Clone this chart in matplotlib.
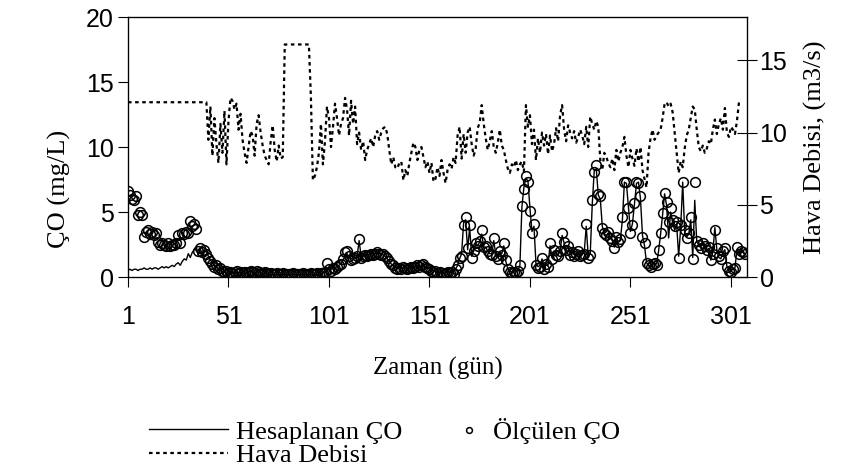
import matplotlib.pyplot as plt

# gun (zaman) eksenleri
days_co = list(range(1, 309))
days_q = list(range(1, 307))

# Olculen CO (mg/L), gun 1-308
olculen_co = [
    6.6, 6.3, 6.0, 5.9, 6.2, 4.8, 5.0, 4.8, 3.1, 3.5,
    3.6, 3.3, 3.5, 3.2, 3.4, 2.7, 2.5, 2.6, 2.5, 2.4,
    2.6, 2.4, 2.5, 2.5, 2.6, 3.2, 2.6, 3.4, 3.3, 3.5,
    3.4, 4.3, 3.9, 4.1, 3.7, 2.0, 2.2, 1.9, 2.1, 1.8,
    1.5, 1.2, 1.0, 0.8, 0.9, 0.6, 0.7, 0.5, 0.4, 0.5,
    0.3, 0.4, 0.3, 0.4, 0.5, 0.3, 0.4, 0.3, 0.4, 0.3,
    0.4, 0.5, 0.4, 0.3, 0.5, 0.4, 0.3, 0.3, 0.4, 0.3,
    0.2, 0.3, 0.2, 0.2, 0.3, 0.2, 0.2, 0.3, 0.2, 0.2,
    0.2, 0.2, 0.3, 0.2, 0.2, 0.2, 0.2, 0.3, 0.2, 0.2,
    0.2, 0.3, 0.2, 0.2, 0.3, 0.2, 0.3, 0.3, 0.4, 1.1,
    0.6, 0.5, 0.7, 0.6, 0.8, 0.9, 1.0, 1.4, 1.9, 2.0,
    1.6, 1.3, 1.4, 1.5, 1.6, 2.9, 1.5, 1.6, 1.7, 1.6,
    1.7, 1.8, 1.7, 1.8, 1.9, 1.8, 1.7, 1.8, 1.6, 1.5,
    1.2, 1.0, 0.9, 0.7, 0.6, 0.7, 0.6, 0.8, 0.7, 0.6,
    0.7, 0.8, 0.7, 0.8, 0.9, 0.8, 0.9, 1.0, 0.8, 0.7,
    0.6, 0.5, 0.4, 0.5, 0.3, 0.4, 0.3, 0.2, 0.3, 0.4,
    0.3, 0.4, 0.2, 0.6, 0.9, 1.5, 1.6, 4.0, 4.6, 2.2,
    4.0, 1.5, 2.0, 2.6, 2.4, 2.8, 3.6, 2.3, 2.4, 2.0,
    1.8, 1.7, 3.0, 1.6, 1.4, 2.0, 1.7, 2.6, 1.3, 0.6,
    0.4, 0.3, 0.4, 0.3, 0.5, 0.9, 5.5, 6.8, 7.8, 7.3,
    5.1, 3.4, 4.1, 0.9, 0.7, 0.8, 1.5, 0.6, 1.0, 0.8,
    2.6, 1.4, 2.1, 1.7, 1.6, 2.0, 3.4, 2.7, 2.1, 2.4,
    1.7, 1.9, 1.6, 1.8, 2.0, 1.6, 1.7, 1.8, 4.1, 1.5,
    1.7, 5.9, 8.1, 8.6, 6.4, 6.2, 3.8, 3.4, 3.2, 3.5,
    3.0, 2.8, 2.2, 3.1, 2.7, 2.9, 4.6, 7.3, 7.3, 5.3,
    3.4, 4.0, 5.7, 7.3, 7.2, 6.2, 3.1, 2.6, 1.1, 0.9,
    0.8, 1.0, 1.1, 0.9, 2.1, 3.4, 4.9, 6.5, 5.8, 4.2,
    5.3, 4.4, 3.9, 4.2, 1.5, 4.0, 7.3, 3.6, 3.0, 3.4,
    4.6, 1.4, 7.3, 2.8, 2.5, 2.2, 2.6, 2.4, 2.1, 2.3,
    1.3, 1.8, 3.6, 2.2, 1.6, 1.4, 2.0, 2.2, 0.8, 0.5,
    0.4, 0.6, 0.7, 2.3, 1.8, 2.0, 1.9, 1.8,
]

# Hesaplanan CO (mg/L), gun 1-308
hesaplanan_co = [
    0.5, 0.6, 0.5, 0.6, 0.6, 0.5, 0.6, 0.6, 0.7, 0.6,
    0.6, 0.7, 0.6, 0.7, 0.7, 0.6, 0.7, 0.8, 0.7, 0.8,
    0.7, 0.8, 0.9, 0.8, 1.0, 1.1, 0.9, 1.2, 1.4, 1.3,
    1.8, 1.5, 1.9, 2.1, 2.3, 1.7, 2.2, 1.6, 1.9, 2.0,
    1.6, 1.3, 1.1, 0.9, 0.8, 0.6, 0.5, 0.4, 0.4, 0.3,
    0.3, 0.3, 0.3, 0.4, 0.4, 0.3, 0.4, 0.3, 0.3, 0.3,
    0.4, 0.4, 0.4, 0.3, 0.4, 0.4, 0.3, 0.3, 0.3, 0.3,
    0.2, 0.2, 0.2, 0.2, 0.2, 0.2, 0.2, 0.2, 0.2, 0.2,
    0.2, 0.2, 0.2, 0.2, 0.2, 0.2, 0.2, 0.2, 0.2, 0.2,
    0.2, 0.2, 0.2, 0.2, 0.2, 0.2, 0.3, 0.3, 0.4, 0.6,
    0.6, 0.6, 0.7, 0.7, 0.8, 0.9, 1.0, 1.3, 1.6, 1.8,
    1.5, 1.4, 1.4, 1.5, 1.6, 2.8, 1.6, 1.6, 1.7, 1.7,
    1.7, 1.8, 1.8, 1.8, 1.9, 1.8, 1.8, 1.7, 1.6, 1.4,
    1.2, 1.0, 0.9, 0.8, 0.7, 0.7, 0.7, 0.7, 0.7, 0.7,
    0.7, 0.7, 0.7, 0.8, 0.8, 0.8, 0.8, 0.9, 0.8, 0.7,
    0.6, 0.5, 0.5, 0.4, 0.4, 0.4, 0.3, 0.3, 0.3, 0.4,
    0.4, 0.4, 0.4, 0.6, 0.9, 1.4, 1.8, 4.2, 4.4, 2.1,
    3.8, 1.6, 2.0, 2.5, 2.4, 2.7, 3.3, 2.3, 2.3, 2.0,
    1.8, 1.8, 2.8, 1.7, 1.5, 1.9, 1.8, 2.4, 1.2, 0.6,
    0.4, 0.4, 0.4, 0.4, 0.5, 0.9, 5.4, 6.9, 7.6, 7.4,
    5.3, 3.5, 3.9, 1.0, 0.8, 0.9, 1.4, 0.7, 1.0, 0.9,
    2.4, 1.5, 2.0, 1.8, 1.7, 2.0, 3.2, 2.6, 2.1, 2.3,
    1.8, 1.9, 1.7, 1.8, 1.9, 1.7, 1.8, 1.9, 3.9, 1.6,
    1.8, 5.6, 8.2, 8.3, 6.3, 6.0, 3.9, 3.3, 3.2, 3.4,
    3.0, 2.8, 2.3, 3.0, 2.7, 2.9, 4.4, 7.3, 7.2, 5.4,
    3.5, 4.1, 5.6, 7.2, 7.3, 6.0, 3.2, 2.4, 1.1, 0.9,
    0.8, 1.0, 1.1, 1.0, 2.0, 3.3, 4.8, 6.4, 5.5, 3.0,
    5.0, 4.2, 3.6, 4.0, 1.6, 3.8, 7.3, 3.4, 3.1, 3.3,
    4.4, 1.5, 5.9, 2.7, 2.5, 2.3, 2.5, 2.3, 2.1, 2.2,
    1.3, 1.9, 3.8, 2.1, 1.5, 1.4, 1.9, 2.1, 0.8, 0.6,
    0.5, 0.6, 0.7, 2.1, 1.8, 1.9, 1.9, 1.7,
]

# Hava debisi (m3/s), gun 1-306
hava_debisi = [
    12.1, 12.1, 12.1, 12.1, 12.1, 12.1, 12.1, 12.1, 12.1, 12.1,
    12.1, 12.1, 12.1, 12.1, 12.1, 12.1, 12.1, 12.1, 12.1, 12.1,
    12.1, 12.1, 12.1, 12.1, 12.1, 12.1, 12.1, 12.1, 12.1, 12.1,
    12.1, 12.1, 12.1, 12.1, 12.1, 12.1, 12.1, 12.1, 12.1, 12.1,
    9.5, 11.8, 8.4, 11.0, 9.2, 7.9, 10.6, 8.6, 11.5, 7.8,
    10.8, 12.4, 12.2, 11.6, 12.0, 10.2, 11.3, 9.5, 8.6, 7.9,
    9.0, 10.1, 9.8, 8.4, 10.6, 11.2, 10.0, 9.1, 8.4, 8.1,
    7.8, 9.4, 10.5, 8.8, 8.0, 9.1, 8.2, 8.3, 16.1, 16.1,
    16.1, 16.1, 16.1, 16.1, 16.1, 16.1, 16.1, 16.1, 16.1, 16.1,
    16.1, 12.5, 6.7, 7.0, 7.6, 8.6, 10.6, 7.8, 9.4, 11.8,
    11.0, 9.0, 10.4, 12.0, 11.0, 9.8, 10.6, 11.0, 12.4, 11.6,
    9.8, 12.2, 10.6, 11.8, 9.2, 10.0, 8.8, 9.4, 8.1, 8.8,
    9.2, 9.6, 9.0, 9.8, 10.1, 9.5, 10.0, 10.3, 10.4, 9.9,
    8.8, 7.8, 8.3, 7.6, 7.5, 7.9, 8.0, 6.7, 7.4, 7.0,
    7.9, 8.6, 9.3, 9.0, 8.1, 8.8, 9.0, 8.3, 7.6, 8.0,
    7.2, 7.9, 6.6, 6.8, 7.6, 7.0, 8.1, 7.2, 6.5, 7.4,
    7.8, 7.5, 8.3, 7.9, 9.8, 10.4, 8.2, 9.9, 8.6, 10.0,
    10.4, 9.2, 8.4, 8.9, 10.3, 10.7, 11.9, 10.6, 9.6, 8.8,
    9.4, 10.1, 9.0, 8.6, 9.3, 10.2, 9.1, 8.8, 8.1, 7.5,
    7.2, 7.8, 7.6, 8.1, 7.4, 7.8, 8.0, 7.3, 11.9, 10.4,
    11.2, 9.2, 10.2, 8.1, 9.6, 8.6, 10.0, 9.1, 9.9, 8.5,
    9.8, 8.7, 9.2, 10.3, 9.4, 11.2, 11.9, 10.2, 9.4, 10.5,
    10.0, 9.6, 10.1, 9.3, 9.7, 10.2, 9.8, 9.2, 10.4, 9.0,
    11.1, 10.6, 10.2, 10.8, 10.4, 8.1, 7.4, 8.6, 8.3, 7.9,
    7.6, 8.2, 7.4, 8.8, 8.0, 8.6, 9.0, 9.7, 8.4, 7.6,
    8.8, 8.2, 7.7, 8.9, 8.0, 9.0, 7.4, 6.8, 6.2, 8.6,
    9.6, 10.2, 9.5, 9.8, 10.0, 10.2, 11.0, 12.0, 12.1, 11.8,
    12.0, 11.4, 10.0, 8.6, 7.2, 8.0, 7.6, 8.9, 9.8, 10.2,
    11.0, 11.8, 11.6, 10.2, 9.0, 8.7, 9.1, 8.6, 8.9, 9.4,
    9.2, 10.2, 10.9, 9.9, 10.6, 11.0, 10.2, 11.7, 10.0, 9.7,
    10.4, 10.2, 9.9, 10.8, 12.1, 12.0,
]

x_ticks = [1, 51, 101, 151, 201, 251, 301]

TICK_FONT = "Liberation Sans"
LABEL_FONT = "Liberation Serif"


def main():

    fig = plt.figure(figsize=(8.51, 4.70), dpi=100)
    ax = fig.add_axes([0.1504, 0.4106, 0.7274, 0.5532])
    ax2 = ax.twinx()

    # CO serileri (sol eksen)
    ln_h, = ax.plot(days_co, hesaplanan_co, color="black", lw=1.0)
    ln_o, = ax.plot(days_co, olculen_co, ls="none", marker="o",
                    markersize=7, markerfacecolor="none",
                    markeredgecolor="black", markeredgewidth=1.1)

    # hava debisi (sag eksen)
    ln_q, = ax2.plot(days_q, hava_debisi, color="black", lw=1.6,
                     ls=(0, (1.6, 1.6)))

    ax.set_xlim(1, 309)
    ax.set_ylim(0, 20)
    ax2.set_ylim(0, 18)

    ax.set_xticks(x_ticks)
    ax.set_yticks([0, 5, 10, 15, 20])
    ax2.set_yticks([0, 5, 10, 15])

    ax.tick_params(axis="x", direction="out", length=7, width=0.8,
                   labelsize=18, pad=13)
    ax.tick_params(axis="y", direction="out", length=7, width=0.8,
                   labelsize=18, pad=3)
    ax2.tick_params(axis="y", direction="inout", length=14, width=0.8,
                    labelsize=18, pad=2)
    for lab in ax.get_xticklabels() + ax.get_yticklabels() + ax2.get_yticklabels():
        lab.set_fontfamily(TICK_FONT)

    ax.set_xlabel("Zaman (gün)", fontfamily=LABEL_FONT, fontsize=18,
                  labelpad=20)
    ax.set_ylabel("ÇO (mg/L)", fontfamily=LABEL_FONT, fontsize=19)
    ax.yaxis.set_label_coords(-0.092, 0.34)
    ax2.set_ylabel("Hava Debisi, (m3/s)", fontfamily=LABEL_FONT,
                   fontsize=19, labelpad=12)

    for sp in ax.spines.values():
        sp.set_linewidth(0.9)

    # lejant: sol sutun (cizgiler)
    fig.legend(
        [ln_h, ln_q],
        ["Hesaplanan ÇO", "Hava Debisi"],
        loc="upper left",
        bbox_to_anchor=(0.175, 0.106),
        bbox_transform=fig.transFigure,
        frameon=False,
        prop={"family": LABEL_FONT, "size": 19},
        handlelength=3.0,
        handletextpad=0.3,
        labelspacing=0.0,
        borderaxespad=0,
        borderpad=0,
    )
    # lejant: sag sutun (olculen)
    fig.legend(
        [ln_o],
        ["Ölçülen ÇO"],
        loc="upper left",
        bbox_to_anchor=(0.536, 0.111),
        bbox_transform=fig.transFigure,
        frameon=False,
        prop={"family": LABEL_FONT, "size": 19},
        handlelength=1.0,
        handletextpad=0.4,
        markerscale=0.6,
        borderaxespad=0,
        borderpad=0,
    )

    fig.savefig("out.png", dpi=100)


main()
